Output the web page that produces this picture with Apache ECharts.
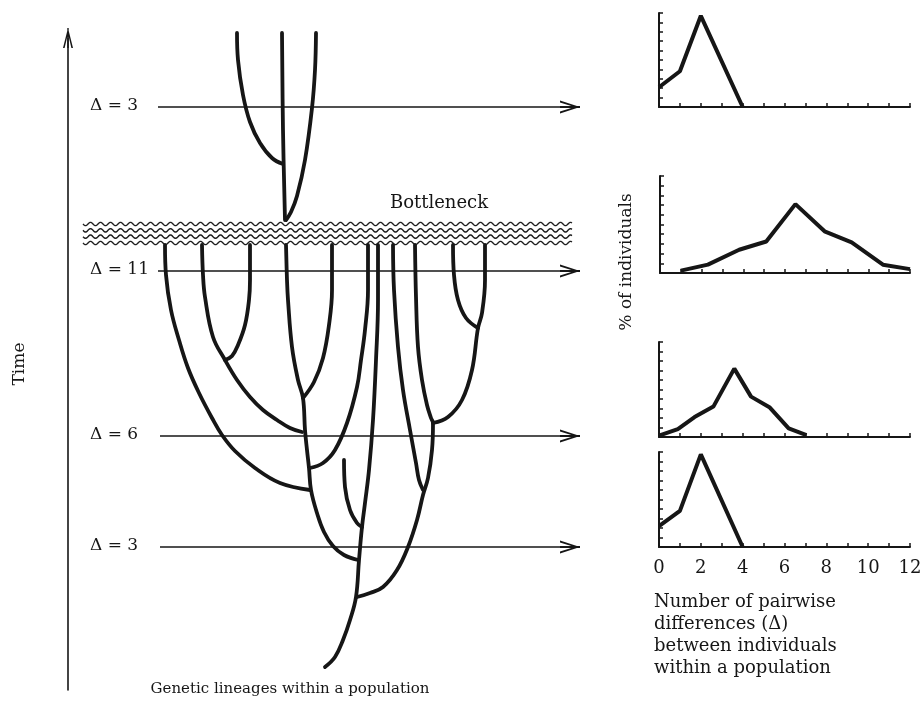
<!DOCTYPE html>
<html>
<head>
<meta charset="utf-8">
<script src="https://cdn.jsdelivr.net/npm/echarts@6/dist/echarts.min.js"></script>
<style>
  html, body { margin: 0; padding: 0; background: #fff; }
  #main { width: 922px; height: 701px; }
</style>
</head>
<body>
<div id="main"></div>
<script>
// ---------- data: mismatch distributions (x = pairwise differences, y = % of individuals)
const diffTicks = [0, 2, 4, 6, 8, 10, 12];
const distTop = [[0, 2.1], [1, 3.8], [2, 9.7], [4, 0]];                 // after bottleneck, Δ = 3
const distBottleneck = [[1, 0.24], [2.3, 0.86], [3.8, 2.4], [5.1, 3.25], [6.5, 7.1],
  [7.9, 4.3], [9.2, 3.15], [10.7, 0.86], [12, 0.4]];                        // Δ = 11
const distMiddle = [[0, 0.14], [0.9, 0.84], [1.7, 2.1], [2.6, 3.2], [3.6, 7.2],
  [4.4, 4.25], [5.3, 3.1], [6.2, 0.9], [7.05, 0.2]];                        // Δ = 6
const distBottom = [[0, 2.2], [1, 3.8], [2, 9.75], [4, 0]];               // Δ = 3

// ---------- data: genealogy (diagram units, time runs upward on screen)
const levelY = [107, 271, 436, 547];
const levelLabels = ['Δ = 3', 'Δ = 11', 'Δ = 6', 'Δ = 3'];
const levelStartX = [158, 158, 160, 160];
const levelEndX = 580;
const bottleneckBand = [[83, 224, 572, 243]];

// above the bottleneck
const topLeft = [[237, 33], [238, 60], [243, 95], [250, 122], [260, 143], [272, 158], [283, 164]];
const topMid = [[282, 33], [283, 130], [285, 220]];
const topRight = [[316, 33], [315, 70], [312, 108], [305, 160], [297, 196], [291, 212], [286, 220]];

// below the bottleneck
const lin165 = [[165, 245], [166, 275], [171, 310], [179, 340], [188, 368], [199, 393], [212, 418],
  [222, 435], [235, 451], [255, 468], [280, 483], [310, 490]];
const lin202 = [[202, 245], [203, 275], [205, 297], [213, 337], [225, 360], [237, 380], [250, 397],
  [263, 410], [277, 420], [290, 428], [302, 432]];
const lin250 = [[250, 245], [250, 280], [249, 300], [245, 325], [238, 345], [232, 356], [225, 360]];
const lin286 = [[286, 245], [287, 280], [288, 300], [292, 347], [298, 380], [303, 398], [305, 430],
  [307, 450], [309, 468], [311, 490], [317, 513], [324, 532], [333, 546], [344, 555], [358, 560]];
const lin332 = [[332, 245], [332, 290], [329, 325], [323, 358], [314, 382], [303, 398]];
const lin368 = [[368, 245], [368, 290], [365, 330], [361, 360], [357, 387], [347, 423], [335, 450],
  [323, 463], [310, 468]];
const lin378 = [[378, 245], [378, 300], [376, 360], [373, 420], [369, 470], [365, 503], [362, 527],
  [359, 560], [356, 597], [350, 620], [343, 640], [335, 657], [325, 667]];
const lin345 = [[344, 460], [345, 487], [350, 510], [357, 523], [362, 527]];
const lin393 = [[393, 245], [394, 290], [398, 347], [403, 390], [410, 430], [416, 463], [419, 480], [423, 490]];
const lin415 = [[415, 245], [416, 297], [418, 347], [422, 380], [427, 405], [431, 418], [433, 423],
  [432, 450], [428, 478], [423, 495], [417, 520], [408, 547], [397, 570], [383, 587], [370, 593], [357, 597]];
const lin453 = [[453, 245], [454, 275], [458, 300], [466, 318], [478, 328]];
const lin485 = [[485, 245], [485, 280], [482, 313], [478, 328], [472, 370], [462, 400], [448, 417], [433, 423]];

const lineages = [topLeft, topMid, topRight, lin165, lin202, lin250, lin286, lin332, lin368,
  lin378, lin345, lin393, lin415, lin453, lin485];
const distributions = [distTop, distBottleneck, distMiddle, distBottom];

// ---------- chart
const serif = 'DejaVu Serif';
const ink = '#161616';
const arrowHead = 'path://M5,0 L10,20 L8.4,20 L5,5.5 L1.6,20 L0,20 Z M4.3,0 L5.7,0 L5.7,20 L4.3,20 Z';

let myChart = echarts.init(document.querySelector('#main'));

// small plots on the right
const histGrids = [
  { left: 659, top: 13, width: 251, height: 94 },
  { left: 660, top: 176, width: 250, height: 97 },
  { left: 659, top: 342, width: 251, height: 95 },
  { left: 659, top: 452, width: 251, height: 95 }
];

let grid = histGrids.map(g => Object.assign({ outerBoundsMode: 'none' }, g));
grid.push({ left: 0, top: 0, right: 0, bottom: 0, outerBoundsMode: 'none' });   // genealogy
grid.push({ left: 68, top: 38, width: 1, bottom: 11, outerBoundsMode: 'none' });  // time arrow

let xAxis = distributions.map((d, i) => ({
  gridIndex: i,
  type: 'value',
  min: 0,
  max: 12,
  interval: 1,
  axisLine: { lineStyle: { color: ink, width: 2 } },
  axisTick: { inside: true, length: 4, lineStyle: { color: ink, width: 1.5 } },
  axisLabel: {
    show: i === 3,
    color: ink,
    fontFamily: serif,
    fontSize: 18,
    margin: 12,
    formatter: v => (diffTicks.includes(v) ? String(v) : '')
  },
  splitLine: { show: false }
}));
let yAxis = distributions.map((d, i) => ({
  gridIndex: i,
  type: 'value',
  min: 0,
  max: 10,
  interval: 1,
  axisLine: { show: true, lineStyle: { color: ink, width: 2 } },
  axisTick: { show: true, inside: true, length: 4, lineStyle: { color: ink, width: 1.5 } },
  axisLabel: { show: false },
  splitLine: { show: false }
}));

xAxis.push({ gridIndex: 4, type: 'value', min: 0, max: 922, show: false });
yAxis.push({ gridIndex: 4, type: 'value', min: 0, max: 701, inverse: true, show: false });

xAxis.push({ gridIndex: 5, type: 'value', min: 0, max: 1, show: false });
yAxis.push({
  gridIndex: 5,
  type: 'value',
  min: 0,
  max: 1,
  axisLine: {
    show: true,
    symbol: ['none', arrowHead],
    symbolSize: [15, 20],
    lineStyle: { color: ink, width: 1.6 }
  },
  axisTick: { show: false },
  axisLabel: { show: false },
  splitLine: { show: false },
  name: 'Time',
  nameLocation: 'middle',
  nameRotate: 90,
  nameGap: 40,
  nameTextStyle: { color: ink, fontFamily: serif, fontSize: 17 }
});

let series = distributions.map((d, i) => ({
  type: 'line',
  xAxisIndex: i,
  yAxisIndex: i,
  data: d,
  symbol: 'none',
  clip: false,
  lineStyle: { color: ink, width: 4 }
}));

// bottleneck band: wavy lines
series.push({
  type: 'custom',
  xAxisIndex: 4,
  yAxisIndex: 4,
  data: bottleneckBand,
  silent: true,
  renderItem: function (params, api) {
    const a = api.coord([api.value(0), api.value(1)]);
    const b = api.coord([api.value(2), api.value(3)]);
    const rows = 4;
    let children = [];
    for (let r = 0; r < rows; r++) {
      const y = a[1] + (b[1] - a[1]) * r / (rows - 1);
      let pts = [];
      for (let x = a[0]; x <= b[0]; x += 1) {
        pts.push([x, y + 1.7 * Math.sin((x - a[0]) / 10 * 2 * Math.PI)]);
      }
      children.push({
        type: 'polyline',
        shape: { points: pts },
        style: { stroke: '#1e1e1e', lineWidth: 1.4, fill: null }
      });
    }
    return { type: 'group', children: children };
  }
});

// Δ levels: horizontal arrows
series.push({
  type: 'line',
  xAxisIndex: 4,
  yAxisIndex: 4,
  data: [],
  silent: true,
  markLine: {
    silent: true,
    animation: false,
    symbol: ['none', arrowHead],
    symbolSize: [13, 20],
    label: { show: false },
    lineStyle: { color: ink, width: 1.6, type: 'solid' },
    data: levelY.map((y, i) => [{ coord: [levelStartX[i], y] }, { coord: [levelEndX - 10, y] }])
  }
});

// lineages
lineages.forEach(lin => {
  series.push({
    type: 'line',
    xAxisIndex: 4,
    yAxisIndex: 4,
    data: lin,
    smooth: 0.4,
    symbol: 'none',
    silent: true,
    lineStyle: { color: ink, width: 3.8, cap: 'round' }
  });
});

// text
let graphic = levelLabels.map((t, i) => ({
  type: 'text',
  left: 90,
  top: levelY[i] - 10,
  style: { text: t, fill: ink, font: '17px "DejaVu Serif"' }
}));
graphic.push(
  { type: 'text', x: 439, y: 203, style: { text: 'Bottleneck', fill: ink, font: '18px "DejaVu Serif"', align: 'center', verticalAlign: 'middle' } },
  { type: 'text', x: 290, y: 689, style: { text: 'Genetic lineages within a population', fill: ink, font: '15px "DejaVu Serif"', align: 'center', verticalAlign: 'middle' } },
  { type: 'text', x: 627, y: 262, rotation: Math.PI / 2, style: { text: '% of individuals', fill: ink, font: '17px "DejaVu Serif"', align: 'center', verticalAlign: 'middle' } },
  { type: 'text', x: 654, y: 591, style: { text: 'Number of pairwise\ndifferences (Δ)\nbetween individuals\nwithin a population', fill: ink, font: '18px "DejaVu Serif"', lineHeight: 22 } }
);

let option = {
  animation: false,
  backgroundColor: '#fff',
  grid: grid,
  xAxis: xAxis,
  yAxis: yAxis,
  series: series,
  graphic: graphic
};
myChart.setOption(option);
</script>
</body>
</html>
